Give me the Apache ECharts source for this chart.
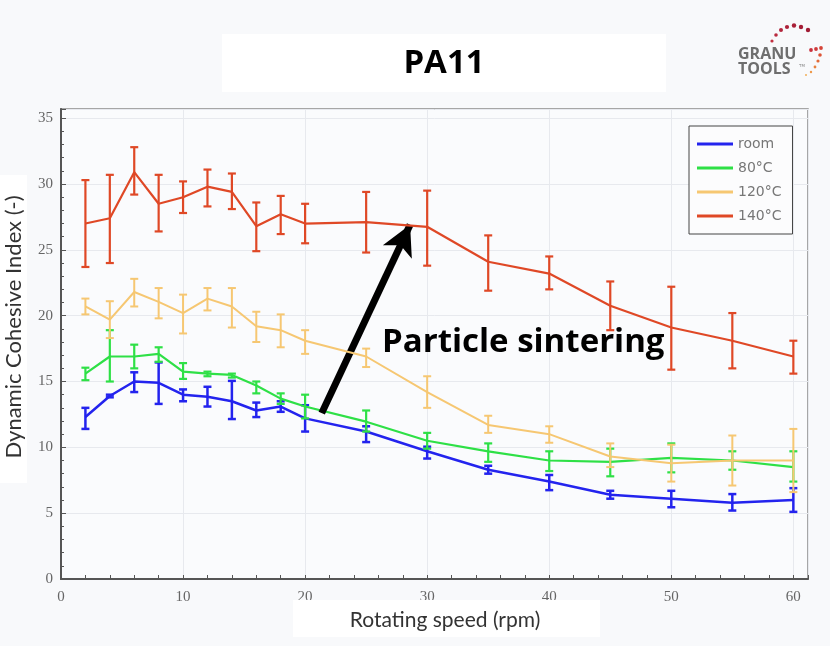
<!DOCTYPE html>
<html>
<head>
<meta charset="utf-8">
<script src="https://cdn.jsdelivr.net/npm/echarts@6/dist/echarts.min.js"></script>
<style>
  html, body { margin: 0; padding: 0; background: #f8f9fb; }
  #chart { width: 830px; height: 646px; }
</style>
</head>
<body>
<div id="chart"></div>
<script>
// rotating speed (rpm)
const speeds = [2, 4, 6, 8, 10, 12, 14, 16, 18, 20, 25, 30, 35, 40, 45, 50, 55, 60];

// dynamic cohesive index, mean + error bar bounds
const room   = [12.3, 13.9, 15.0, 14.9, 14.0, 13.85, 13.5, 12.8, 13.1, 12.2, 11.2, 9.7, 8.3, 7.4, 6.4, 6.1, 5.8, 6.0];
const roomLo = [11.4, 13.8, 14.2, 13.3, 13.5, 13.1, 12.15, 12.3, 12.7, 11.2, 10.4, 9.15, 8.0, 6.75, 6.1, 5.45, 5.2, 5.1];
const roomHi = [13.0, 14.0, 15.7, 16.45, 14.4, 14.6, 15.05, 13.4, 13.5, 13.2, 11.6, 10.05, 8.6, 7.9, 6.7, 6.7, 6.45, 6.9];

const c80   = [15.6, 16.9, 16.9, 17.1, 15.75, 15.6, 15.5, 14.7, 13.7, 13.1, 11.95, 10.5, 9.7, 9.0, 8.9, 9.2, 9.0, 8.5];
const c80Lo = [15.1, 15.0, 16.0, 16.5, 15.2, 15.4, 15.3, 14.1, 13.3, 12.2, 11.2, 9.9, 8.9, 8.2, 7.8, 8.1, 8.3, 7.4];
const c80Hi = [16.05, 18.9, 17.8, 17.6, 16.4, 15.75, 15.6, 15.0, 14.1, 14.0, 12.8, 11.1, 10.3, 9.7, 9.9, 10.3, 9.7, 9.7];

const c120   = [20.7, 19.7, 21.8, 21.05, 20.2, 21.3, 20.7, 19.2, 18.9, 18.1, 16.9, 14.2, 11.7, 11.0, 9.3, 8.8, 9.0, 9.0];
const c120Lo = [20.1, 18.3, 20.7, 19.8, 18.65, 20.4, 19.1, 18.0, 17.6, 17.1, 16.1, 13.0, 11.1, 10.35, 8.5, 7.4, 7.1, 6.6];
const c120Hi = [21.3, 21.1, 22.8, 22.1, 21.6, 22.1, 22.1, 20.3, 20.1, 18.9, 17.5, 15.4, 12.4, 11.6, 10.3, 10.2, 10.9, 11.4];

const c140   = [27.0, 27.4, 30.9, 28.5, 29.0, 29.8, 29.4, 26.8, 27.7, 27.0, 27.1, 26.75, 24.1, 23.2, 20.75, 19.1, 18.1, 16.9];
const c140Lo = [23.7, 24.0, 29.2, 26.4, 27.8, 28.3, 28.1, 24.9, 26.2, 25.5, 24.8, 23.8, 21.9, 22.0, 18.9, 15.9, 16.0, 15.6];
const c140Hi = [30.3, 30.7, 32.8, 30.7, 30.2, 31.1, 30.8, 28.6, 29.1, 28.5, 29.4, 29.5, 26.1, 24.5, 22.6, 22.2, 20.2, 18.1];

const names = ['room', '80°C', '120°C', '140°C'];

// annotation arrow (data units): tail -> tip
const arrowFrom = [21.36, 12.6];
const arrowTo = [28.6, 26.9];

const colors = ['#2323ee', '#2ee046', '#f6c772', '#df4826'];
const widths = [2.5, 2.2, 2, 2.2];

function pairs(ys) {
  return speeds.map((x, i) => [x, ys[i]]);
}
function bars(lo, hi) {
  return speeds.map((x, i) => [x, lo[i], hi[i]]);
}

function errRender(color, width) {
  return function (params, api) {
    const x = api.value(0);
    const top = api.coord([x, api.value(2)]);
    const bot = api.coord([x, api.value(1)]);
    const w = 4;
    const st = { stroke: color, lineWidth: width };
    return {
      type: 'group',
      children: [
        { type: 'line', shape: { x1: top[0], y1: top[1], x2: bot[0], y2: bot[1] }, style: st },
        { type: 'line', shape: { x1: top[0] - w, y1: top[1], x2: top[0] + w, y2: top[1] }, style: st },
        { type: 'line', shape: { x1: bot[0] - w, y1: bot[1], x2: bot[0] + w, y2: bot[1] }, style: st }
      ]
    };
  };
}

const means = [room, c80, c120, c140];
const los = [roomLo, c80Lo, c120Lo, c140Lo];
const his = [roomHi, c80Hi, c120Hi, c140Hi];

const series = [];
for (let i = 0; i < 4; i++) {
  series.push({
    name: names[i],
    type: 'line',
    data: pairs(means[i]),
    color: colors[i],
    showSymbol: false,
    lineStyle: { color: colors[i], width: widths[i] },
    z: 3 + i
  });
  series.push({
    name: names[i] + ' err',
    type: 'custom',
    data: bars(los[i], his[i]),
    encode: { x: 0, y: [1, 2] },
    renderItem: errRender(colors[i], widths[i]),
    z: 3 + i
  });
}
series.push({
  type: 'line',
  data: [],
  silent: true,
  z: 20,
  markLine: {
    silent: true,
    symbol: ['none', 'arrow'],
    symbolSize: [24, 30],
    label: { show: false },
    lineStyle: { color: '#000', width: 7, type: 'solid' },
    data: [[{ coord: arrowFrom }, { coord: arrowTo }]]
  }
});

const tickFont = { fontFamily: 'Liberation Serif', fontSize: 15, color: '#666' };
const axisDark = { show: true, lineStyle: { color: '#555', width: 2 } };

const chart = echarts.init(document.getElementById('chart'));
chart.setOption({
  animation: false,
  backgroundColor: '#f8f9fb',
  grid: {
    left: 61, right: 22, top: 109, bottom: 67,
    show: true, borderColor: '#8a8a8a', borderWidth: 1.5, backgroundColor: '#fafbfd'
  },
  legend: {
    data: names,
    orient: 'vertical',
    left: 689, top: 126,
    padding: [11, 11, 11, 8],
    itemWidth: 36, itemHeight: 3, itemGap: 10,
    icon: 'rect',
    borderColor: '#444', borderWidth: 1,
    backgroundColor: '#fcfcfd',
    textStyle: { fontFamily: 'DejaVu Sans', fontSize: 14, color: '#777', lineHeight: 14 }
  },
  xAxis: [{
    type: 'value', min: 0, max: 61.2, interval: 10,
    axisLine: Object.assign({ onZero: false }, axisDark),
    axisTick: { inside: true, length: 4, lineStyle: { color: '#555' } },
    axisLabel: Object.assign({ margin: 11, formatter: v => (v % 10 === 0 ? String(v) : '') }, tickFont),
    splitLine: { show: true, lineStyle: { color: '#e7e9ee', width: 1 } }
  }, {
    type: 'value', min: 0, max: 61.2, interval: 2, position: 'bottom',
    gridIndex: 0,
    axisLine: { show: false, onZero: false },
    axisTick: { inside: true, length: 4, lineStyle: { color: '#555' } },
    axisLabel: { show: false },
    splitLine: { show: false }
  }],
  yAxis: [{
    type: 'value', min: 0, max: 35.7, interval: 5,
    axisLine: Object.assign({ onZero: false }, axisDark),
    axisTick: { show: true, inside: true, length: 5, lineStyle: { color: '#555' } },
    axisLabel: Object.assign({ margin: 8, formatter: v => (v % 5 === 0 ? String(v) : '') }, tickFont),
    splitLine: { show: true, lineStyle: { color: '#e7e9ee', width: 1 } }
  }, {
    type: 'value', min: 0, max: 35.7, interval: 1, position: 'left',
    axisLine: { show: false, onZero: false },
    axisTick: { show: true, inside: true, length: 3, lineStyle: { color: '#555' } },
    axisLabel: { show: false },
    splitLine: { show: false }
  }],
  series: series,
  graphic: [
    // title box
    { type: 'rect', left: 222, top: 34, shape: { width: 444, height: 58 }, style: { fill: '#fff' }, z: 1 },
    { type: 'text', x: 444, y: 64, z: 2,
      style: { text: 'PA11', fontFamily: 'Open Sans', fontWeight: 'bold', fontSize: 33, fill: '#000', align: 'center', verticalAlign: 'middle' } },
    // axis name boxes
    { type: 'rect', left: 293, top: 600, shape: { width: 307, height: 37 }, style: { fill: '#fff' }, z: 1 },
    { type: 'text', x: 445, y: 620, z: 2,
      style: { text: 'Rotating speed (rpm)', fontFamily: 'Lato', fontSize: 21, fill: '#333', align: 'center', verticalAlign: 'middle' } },
    { type: 'rect', left: 0, top: 175, shape: { width: 27, height: 308 }, style: { fill: '#fff' }, z: 1 },
    { type: 'text', x: 14, y: 327, rotation: Math.PI / 2, z: 2,
      style: { text: 'Dynamic Cohesive Index (-)', fontFamily: 'Lato', fontSize: 22, fill: '#333', align: 'center', verticalAlign: 'middle' } },
    // annotation text
    { type: 'text', x: 382, y: 343, z: 30,
      style: { text: 'Particle sintering', fontFamily: 'Open Sans', fontWeight: 'bold', fontSize: 33, fill: '#000', align: 'left', verticalAlign: 'middle' } },
    // logo
    { type: 'text', x: 738, y: 54, z: 2,
      style: { text: 'GRANU', fontFamily: 'Open Sans', fontWeight: 'bold', fontSize: 16, fill: '#6e6e6e', verticalAlign: 'middle' } },
    { type: 'text', x: 738, y: 69, z: 2,
      style: { text: 'TOOLS', fontFamily: 'Open Sans', fontWeight: 'bold', fontSize: 16, fill: '#6e6e6e', verticalAlign: 'middle' } },
    { type: 'text', x: 799, y: 66, z: 2,
      style: { text: 'TM', fontFamily: 'DejaVu Sans', fontSize: 4, fill: '#888', verticalAlign: 'middle' } },
    { type: 'group', z: 2, children: [
      [772, 41, 1.6, '#c23040'], [776, 35, 1.8, '#b92a3e'], [781, 30, 2, '#b3263c'], [787, 27, 2.1, '#ad2239'],
      [794, 25.5, 2.2, '#a81f37'], [801, 27, 2.2, '#a41d35'], [808, 30, 2.2, '#a01c34'],
      [811, 50, 1.9, '#c9303c'], [816, 49, 1.9, '#cf3a3a'], [821, 48, 1.9, '#d54438'],
      [820, 55, 1.8, '#dc5436'], [818, 61, 1.6, '#e26a38'], [815, 67, 1.4, '#e8803e'], [811, 72, 1.2, '#ee9848'], [806, 75, 1, '#f2ae58']
    ].map(d => ({ type: 'circle', shape: { cx: d[0], cy: d[1], r: d[2] }, style: { fill: d[3] } })) }
  ]
});
</script>
</body>
</html>
